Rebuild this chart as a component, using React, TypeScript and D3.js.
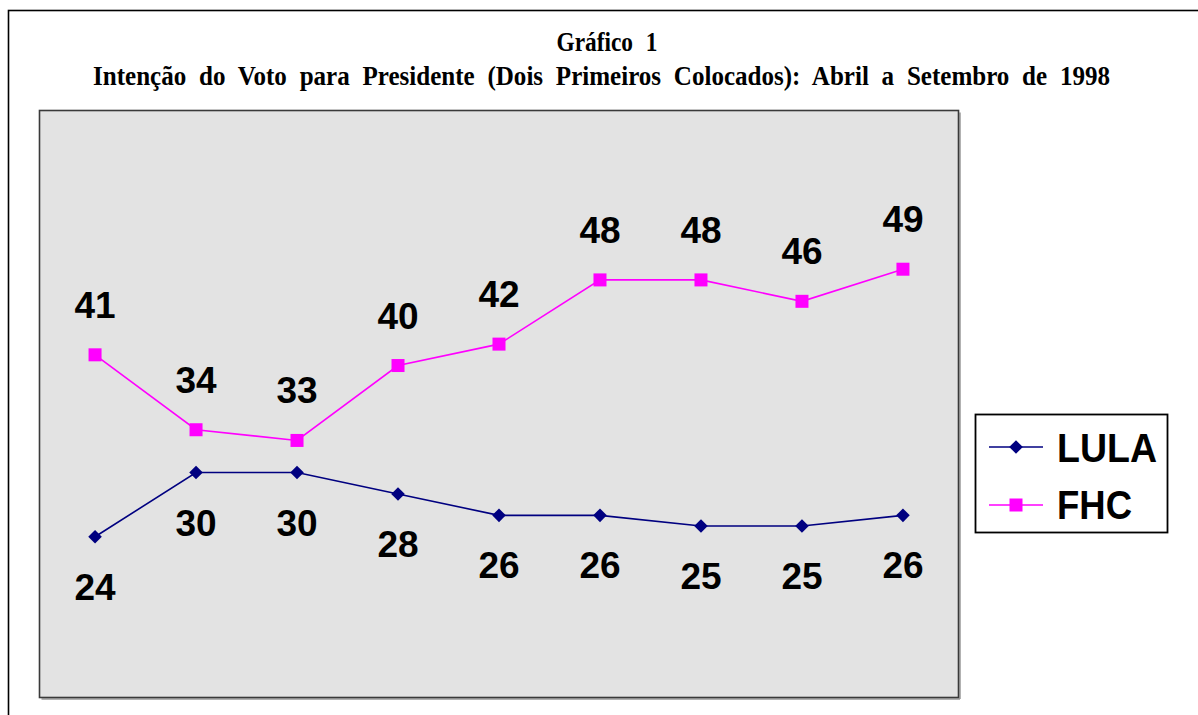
import React from "react";
import * as d3 from "d3";

const polls = ["P1", "P2", "P3", "P4", "P5", "P6", "P7", "P8", "P9"];
const lula = [24, 30, 30, 28, 26, 26, 25, 25, 26];
const fhc = [41, 34, 33, 40, 42, 48, 48, 46, 49];
const seriesNames = ["LULA", "FHC"];
const seriesColors = ["#000080", "#FF00FF"];
const titleLine1 = "Gráfico 1";
const titleLine2 =
  "Intenção do Voto para Presidente (Dois Primeiros Colocados): Abril a Setembro de 1998";

const W = 1198;
const H = 715;
const plot = { x0: 39.5, y0: 110.5, x1: 958.5, y1: 697.5 };

export default function App() {
  const x = d3
    .scalePoint<string>()
    .domain(polls)
    .range([plot.x0, plot.x1])
    .padding(0.55);
  const y = d3.scaleLinear().domain([8.98, 63.83]).range([plot.y1, plot.y0]);

  const line = d3
    .line<number>()
    .x((_, i) => x(polls[i]) as number)
    .y((d) => y(d));

  const diamond = (cx: number, cy: number, r = 6.8) =>
    `M${cx},${cy - r}L${cx + r},${cy}L${cx},${cy + r}L${cx - r},${cy}Z`;

  const labelFont = "'Liberation Sans', Arial, sans-serif";
  const serif = "'Liberation Serif', 'Times New Roman', serif";

  return (
    <svg
      width={W}
      height={H}
      style={{ position: "absolute", left: 0, top: 0, display: "block" }}
    >
      <rect x={0} y={0} width={W} height={H} fill="#fff" />
      {/* outer frame */}
      <rect
        x={8.5}
        y={10.5}
        width={1300}
        height={800}
        fill="none"
        stroke="#000"
        strokeWidth={1.6}
      />
      {/* titles */}
      <text
        x={607}
        y={51}
        textAnchor="middle"
        fontFamily={serif}
        fontWeight="bold"
        fontSize={27}
        textLength={101}
        lengthAdjust="spacingAndGlyphs"
        wordSpacing={8}
      >
        {titleLine1}
      </text>
      <text
        x={601.5}
        y={85}
        textAnchor="middle"
        fontFamily={serif}
        fontWeight="bold"
        fontSize={27}
        textLength={1017}
        lengthAdjust="spacingAndGlyphs"
        wordSpacing={7}
      >
        {titleLine2}
      </text>

      {/* plot area */}
      <line
        x1={plot.x0 + 2}
        y1={plot.y1 + 1.5}
        x2={plot.x1 + 1.5}
        y2={plot.y1 + 1.5}
        stroke="#999"
        strokeWidth={1.5}
      />
      <line
        x1={plot.x1 + 1.5}
        y1={plot.y0 + 2}
        x2={plot.x1 + 1.5}
        y2={plot.y1 + 1.5}
        stroke="#999"
        strokeWidth={1.5}
      />
      <rect
        x={plot.x0}
        y={plot.y0}
        width={plot.x1 - plot.x0}
        height={plot.y1 - plot.y0}
        fill="#e3e3e3"
        stroke="#3a3a3a"
        strokeWidth={1.6}
      />

      {/* lines */}
      <path d={line(lula) || ""} fill="none" stroke={seriesColors[0]} strokeWidth={1.6} />
      <path d={line(fhc) || ""} fill="none" stroke={seriesColors[1]} strokeWidth={1.6} />

      {/* markers */}
      {lula.map((v, i) => (
        <path key={"lm" + i} d={diamond(x(polls[i]) as number, y(v))} fill={seriesColors[0]} />
      ))}
      {fhc.map((v, i) => (
        <rect
          key={"fm" + i}
          x={(x(polls[i]) as number) - 6.5}
          y={y(v) - 6.5}
          width={13}
          height={13}
          fill={seriesColors[1]}
        />
      ))}

      {/* data labels */}
      {lula.map((v, i) => (
        <text
          key={"ll" + i}
          x={x(polls[i]) as number}
          y={y(v) + 63}
          textAnchor="middle"
          fontFamily={labelFont}
          fontWeight="bold"
          fontSize={37}
          fill="#000"
        >
          {v}
        </text>
      ))}
      {fhc.map((v, i) => (
        <text
          key={"fl" + i}
          x={x(polls[i]) as number}
          y={y(v) - 37}
          textAnchor="middle"
          fontFamily={labelFont}
          fontWeight="bold"
          fontSize={37}
          fill="#000"
        >
          {v}
        </text>
      ))}

      {/* legend */}
      <rect
        x={975.5}
        y={414.5}
        width={192}
        height={118}
        fill="#fff"
        stroke="#000"
        strokeWidth={1.8}
      />
      {seriesNames.map((name, i) => {
        const ly = i === 0 ? 447 : 505;
        return (
          <g key={name}>
            <line x1={989} x2={1043} y1={ly} y2={ly} stroke={seriesColors[i]} strokeWidth={1.6} />
            {i === 0 ? (
              <path d={diamond(1016, ly)} fill={seriesColors[0]} />
            ) : (
              <rect x={1009.5} y={ly - 6.5} width={13} height={13} fill={seriesColors[1]} />
            )}
            <text
              x={1057}
              y={i === 0 ? 462 : 519}
              fontFamily={labelFont}
              fontWeight="bold"
              fontSize={40}
              textLength={i === 0 ? 100 : 75}
              lengthAdjust="spacingAndGlyphs"
              fill="#000"
            >
              {name}
            </text>
          </g>
        );
      })}
    </svg>
  );
}
